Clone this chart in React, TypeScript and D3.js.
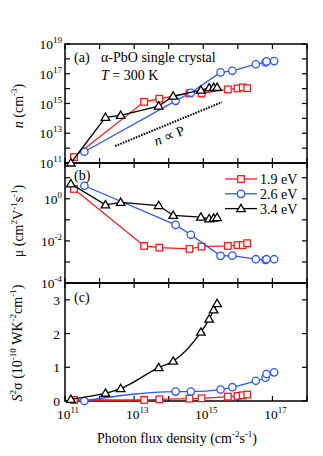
import * as d3 from 'd3'

// log10 of photon flux density for each excitation energy
const fluxRed = [11.26, 13.29, 13.73, 14.6, 14.95, 15.71, 15.99, 16.14, 16.27]
const fluxBlue = [11.56, 14.2, 14.64, 15.5, 15.84, 16.52, 16.8, 16.83, 17.05]
const fluxBlack = [11.17, 12.17, 12.61, 13.71, 14.13, 14.93, 15.17, 15.3, 15.4]

// log10 n (cm^-3)
const nRed = [11.4, 15.11, 15.32, 15.68, 15.68, 15.95, 16.01, 16.08, 16.03]
const nBlue = [11.76, 15.18, 15.72, 17.09, 17.2, 17.64, 17.76, 17.83, 17.85]
const nBlack = [11.0, 14.07, 14.2, 14.83, 15.5, 15.9, 16.05, 16.08, 16.08]

// log10 mobility
const muRed = [0.47, -2.24, -2.32, -2.38, -2.27, -2.24, -2.2, -2.2, -2.11]
const muBlue = [0.62, -1.24, -1.71, -2.71, -2.7, -2.87, -2.9, -2.87, -2.87]
const muBlack = [0.71, -0.29, -0.17, -0.32, -0.79, -0.87, -0.95, -0.92, -0.89]

// power factor (1e-10 W K^-2 cm^-1)
const pfRed = [0.03, 0.03, 0.05, 0.07, 0.08, 0.13, 0.15, 0.17, 0.19]
const pfBlue = [0.0, 0.28, 0.28, 0.34, 0.41, 0.6, 0.69, 0.8, 0.85]
const pfBlack = [0.05, 0.23, 0.37, 0.99, 1.18, 2.04, 2.43, 2.7, 2.89]

const seriesNames = ['1.9 eV', '2.6 eV', '3.4 eV']
const xTickExp = [11, 13, 15, 17]
const nTickExp = [11, 13, 15, 17, 19]
const muTickExp = [-4, -2, 0]
const pfTicks = [0, 1, 2, 3]
const slopeLine = [[12.45, 12.14], [15.54, 15.09]]

const RED = '#ff1a1a'
const BLUE = '#2f55ff'
const BLACK = '#000'
const FONT = 'Liberation Serif'

const L = 65
const R = 307
const top = [44, 163, 283]
const bot = [163, 283, 401]

const x = d3.scaleLinear().domain([11, 18]).range([L, R])
const yA = d3.scaleLinear().domain([11, 19]).range([bot[0], top[0]])
const yB = d3.scaleLinear().domain([-4, 1.7]).range([bot[1], top[1]])
const yC = d3.scaleLinear().domain([0, 3.5]).range([bot[2], top[2]])

type Sc = d3.ScaleLinear<number, number>

function Marker({ kind, cx, cy, color }: { kind: string; cx: number; cy: number; color: string }) {
  if (kind === 'sq') return <rect x={cx - 3.3} y={cy - 3.3} width={6.6} height={6.6} fill="#fff" stroke={color} strokeWidth={1.3} />
  if (kind === 'ci') return <circle cx={cx} cy={cy} r={3.7} fill="#fff" stroke={color} strokeWidth={1.3} />
  return <path d={`M${cx},${cy - 4.3}L${cx + 4.3},${cy + 3}L${cx - 4.3},${cy + 3}Z`} fill="#fff" stroke={color} strokeWidth={1.3} />
}

function Series({ xs, ys, y, color, kind, smooth }: { xs: number[]; ys: number[]; y: Sc; color: string; kind: string; smooth?: boolean }) {
  const pts: [number, number][] = xs.map((v, i) => [x(v), y(ys[i])])
  const line = d3.line().curve(smooth ? d3.curveMonotoneX : d3.curveLinear)
  return (
    <g>
      <path d={line(pts) || ''} fill="none" stroke={color} strokeWidth={1.3} />
      {pts.map((p, i) => <Marker key={i} kind={kind} cx={p[0]} cy={p[1]} color={color} />)}
    </g>
  )
}

function Frame({ i, y, ticks }: { i: number; y: Sc; ticks: number[] }) {
  const t = 5
  const xt = d3.range(11, 19)
  return (
    <g stroke="#000" strokeWidth={1.2}>
      <rect x={L} y={top[i]} width={R - L} height={bot[i] - top[i]} fill="none" strokeWidth={1.5} />
      {xt.map((v) => (
        <g key={'x' + v}>
          <line x1={x(v)} x2={x(v)} y1={bot[i]} y2={bot[i] - t} />
          <line x1={x(v)} x2={x(v)} y1={top[i]} y2={top[i] + t} />
        </g>
      ))}
      {ticks.map((v) => (
        <g key={'y' + v}>
          <line x1={L} x2={L + t} y1={y(v)} y2={y(v)} />
          <line x1={R} x2={R - t} y1={y(v)} y2={y(v)} />
        </g>
      ))}
    </g>
  )
}

function Pow({ x0, y0, e, anchor }: { x0: number; y0: number; e: number; anchor: string }) {
  return (
    <text x={x0} y={y0} textAnchor={anchor} fontSize={13.5} fontFamily={FONT}>
      10<tspan fontSize={9} dy={-6}>{e}</tspan>
    </text>
  )
}

export default function App() {
  return (
    <svg width={323} height={456} style={{ position: 'absolute', left: 0, top: 0 }}>
      <rect width={323} height={456} fill="#fff" />
      <Frame i={0} y={yA} ticks={d3.range(11, 20)} />
      <Frame i={1} y={yB} ticks={d3.range(-4, 2)} />
      <Frame i={2} y={yC} ticks={pfTicks} />

      <path d={d3.line()(slopeLine.map((p) => [x(p[0]), yA(p[1])] as [number, number])) || ''} stroke="#000" strokeWidth={2} strokeDasharray="1.6 1.2" fill="none" />

      <Series xs={fluxRed} ys={nRed} y={yA} color={RED} kind="sq" />
      <Series xs={fluxBlue} ys={nBlue} y={yA} color={BLUE} kind="ci" />
      <Series xs={fluxBlack} ys={nBlack} y={yA} color={BLACK} kind="tr" />

      <Series xs={fluxRed} ys={muRed} y={yB} color={RED} kind="sq" />
      <Series xs={fluxBlue} ys={muBlue} y={yB} color={BLUE} kind="ci" />
      <Series xs={fluxBlack} ys={muBlack} y={yB} color={BLACK} kind="tr" />

      <Series xs={fluxRed} ys={pfRed} y={yC} color={RED} kind="sq" smooth />
      <Series xs={fluxBlue} ys={pfBlue} y={yC} color={BLUE} kind="ci" smooth />
      <Series xs={fluxBlack} ys={pfBlack} y={yC} color={BLACK} kind="tr" smooth />

      <g fontFamily={FONT}>
        {/* tick labels */}
        {nTickExp.map((e) => <Pow key={'n' + e} x0={62} y0={yA(e) + 5} e={e} anchor="end" />)}
        {muTickExp.map((e) => <Pow key={'m' + e} x0={62} y0={yB(e) + 5} e={e} anchor="end" />)}
        {pfTicks.map((v) => (
          <text key={'p' + v} x={60} y={yC(v) + 5} textAnchor="end" fontSize={13.5} fontFamily={FONT}>{v}</text>
        ))}
        {xTickExp.map((e) => <Pow key={'x' + e} x0={x(e) + 3} y0={419} e={e} anchor="middle" />)}

        {/* annotations */}
        <text x={74} y={62} fontSize={14} fontFamily={FONT}>(a)</text>
        <text x={101} y={62} fontSize={14} fontFamily={FONT}>α-PbO single crystal</text>
        <text x={101} y={80} fontSize={14} fontFamily={FONT}><tspan fontStyle="italic">T</tspan> = 300 K</text>
        <text transform="translate(171,140) rotate(-22)" textAnchor="middle" fontSize={14} fontFamily={FONT}>
          <tspan fontStyle="italic">n</tspan> ∝ P
        </text>
        <text x={74} y={180} fontSize={14} fontFamily={FONT}>(b)</text>
        <text x={74} y={302} fontSize={14} fontFamily={FONT}>(c)</text>

        {/* legend */}
        {seriesNames.map((s, i) => {
          const c = [RED, BLUE, BLACK][i]
          const k = ['sq', 'ci', 'tr'][i]
          const yy = 179 + i * 14.8
          return (
            <g key={s}>
              <line x1={225} x2={257} y1={yy} y2={yy} stroke={c} strokeWidth={1.3} />
              <Marker kind={k} cx={241} cy={yy} color={c} />
              <text x={260} y={yy + 5} fontSize={14} fontFamily={FONT}>{s}</text>
            </g>
          )
        })}

        {/* axis titles */}
        <text transform="translate(23,106) rotate(-90)" textAnchor="middle" fontSize={14} fontFamily={FONT}>
          <tspan fontStyle="italic">n</tspan> (cm<tspan fontSize={9} dy={-6}>-3</tspan><tspan dy={6}>)</tspan>
        </text>
        <text transform="translate(23,221) rotate(-90)" textAnchor="middle" fontSize={14} fontFamily={FONT}>
          μ (cm<tspan fontSize={9} dy={-6}>2</tspan><tspan dy={6}>V</tspan><tspan fontSize={9} dy={-6}>-1</tspan><tspan dy={6}>s</tspan><tspan fontSize={9} dy={-6}>-1</tspan><tspan dy={6}>)</tspan>
        </text>
        <text transform="translate(22,343) rotate(-90)" textAnchor="middle" fontSize={14} fontFamily={FONT}>
          <tspan fontStyle="italic">S</tspan><tspan fontSize={9} dy={-6}>2</tspan><tspan dy={6}>σ (10</tspan><tspan fontSize={9} dy={-6}>-10</tspan><tspan dy={6}> WK</tspan><tspan fontSize={9} dy={-6}>-2</tspan><tspan dy={6}>cm</tspan><tspan fontSize={9} dy={-6}>-1</tspan><tspan dy={6}>)</tspan>
        </text>
        <text x={177} y={443} textAnchor="middle" fontSize={14} fontFamily={FONT}>
          Photon flux density (cm<tspan fontSize={9} dy={-6}>-2</tspan><tspan dy={6}>s</tspan><tspan fontSize={9} dy={-6}>-1</tspan><tspan dy={6}>)</tspan>
        </text>
      </g>
    </svg>
  )
}
